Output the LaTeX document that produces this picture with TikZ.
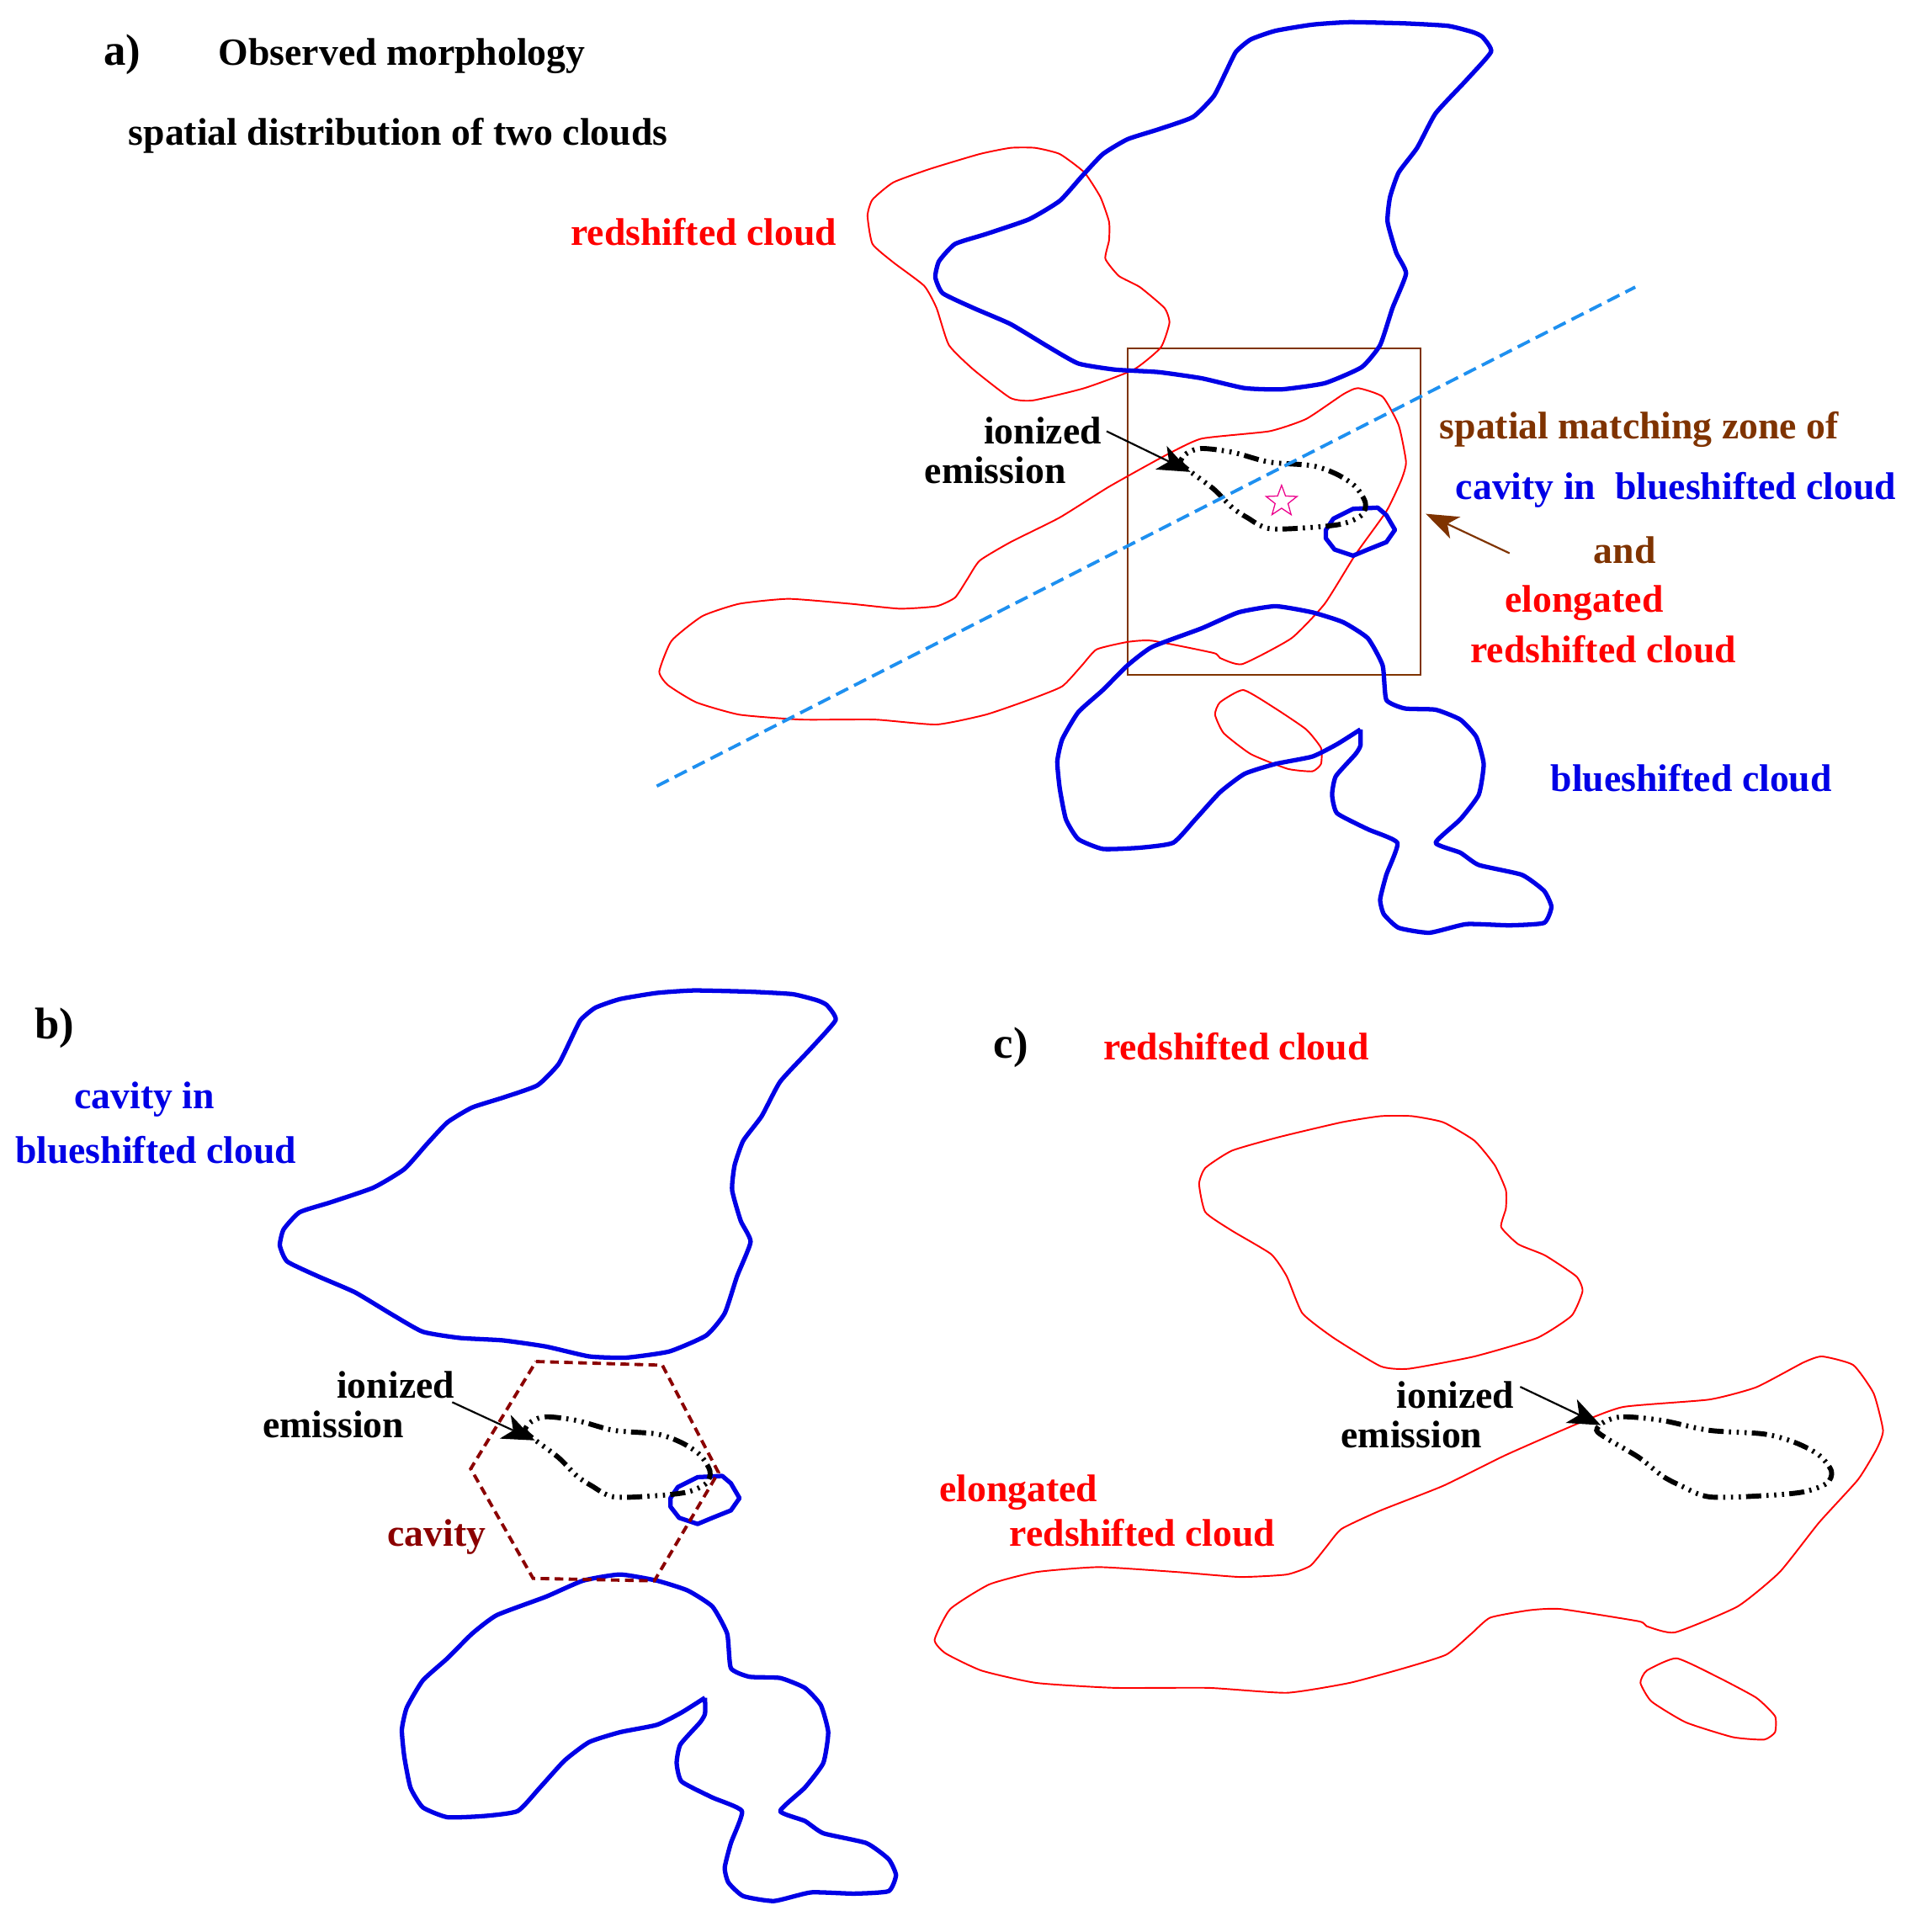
\documentclass[tikz,border=0pt]{standalone}
\usepackage{fontspec}
\setmainfont{Liberation Serif}
\usetikzlibrary{arrows.meta,shapes.geometric}
\definecolor{cloudblue}{RGB}{0,0,230}
\definecolor{cloudred}{RGB}{255,0,0}
\definecolor{zonebrown}{RGB}{127,51,0}
\definecolor{cavityred}{RGB}{139,0,0}
\definecolor{axisblue}{RGB}{30,144,240}
\tikzset{
  blueline/.style={draw=cloudblue,line width=2.05pt,line join=round},
  redline/.style={draw=cloudred,line width=0.75pt,line join=round},
  ionline/.style={draw=black,line width=2.3pt,dash pattern=on 7pt off 2.4pt on 1pt off 2.6pt on 1pt off 2.6pt on 1pt off 2.4pt},
  leader/.style={draw=black,line width=0.85pt,-{Stealth[length=15pt,width=12pt,inset=4pt]}},
  label/.style={inner sep=0pt,anchor=base west,yshift=-0.02cm,font=\fontsize{17.78}{20}\selectfont\bfseries},
  tag/.style={inner sep=0pt,anchor=base west,yshift=-0.02cm,font=\fontsize{20.5}{22}\selectfont\bfseries},
  blue upper/.style={insert path={plot[smooth cycle,tension=.3] coordinates {(1210,42)(1203,30)(1195,26)(1175,21)(1140,19)(1095,18)(1065,20)(1035,25)(1015,32)(1003,42)(995,58)(985,78)(968,95)(940,105)(915,113)(895,125)(878,143)(860,163)(835,178)(800,190)(775,198)(762,212)(759,225)(765,238)(790,250)(820,263)(850,281)(875,295)(905,300)(940,302)(975,307)(1010,315)(1040,316)(1075,311)(1105,298)(1120,280)(1130,250)(1141,222)(1133,205)(1126,180)(1128,160)(1135,140)(1150,120)(1165,92)(1190,65)}}},
  blue lower/.style={insert path={plot[smooth,tension=.3] coordinates {(1104,592)(1085,604)(1065,614)(1035,620)(1010,628)(990,643)(970,665)(952,684)(925,688)(895,689)(875,681)(865,665)(860,640)(858,618)(862,600)(875,578)(895,560)(915,540)(935,525)(975,510)(1005,497)(1035,492)(1065,497)(1090,505)(1110,518)(1122,540)(1125,568)(1140,575)(1165,576)(1185,584)(1198,598)(1204,620)(1200,645)(1185,665)(1165,684)(1185,692)(1200,702)(1235,710)(1253,723)(1259,736)(1253,749)(1225,751)(1190,750)(1160,757)(1135,753)(1123,742)(1120,730)(1125,710)(1134,684)(1110,673)(1085,660)(1081,645)(1084,630)(1100,612)(1104,605)(1104,592)}}},
  blue loop/.style={insert path={(1076,430)--(1082,421)--(1098,413)--(1118,412)--(1125,418)--(1132,430)--(1125,440)--(1110,446)--(1098,451)--(1083,446)--(1076,437)--cycle}},
  red upper/.style={insert path={plot[smooth cycle,tension=.3] coordinates {(704,175)(708,162)(725,148)(755,137)(795,125)(820,120)(840,120)(860,125)(880,140)(893,160)(900,180)(900,195)(897,210)(908,224)(925,233)(945,250)(949,262)(942,282)(920,300)(880,315)(838,325)(820,323)(790,300)(770,280)(760,250)(750,232)(725,213)(708,198)}}},
  red long/.style={insert path={plot[smooth cycle,tension=.3] coordinates {(1102,315)(1090,320)(1060,340)(1030,350)(975,356)(945,370)(900,395)(860,420)(820,440)(795,455)(785,470)(775,485)(760,492)(730,494)(690,490)(640,486)(600,490)(570,500)(545,520)(535,545)(542,556)(565,570)(600,580)(650,584)(710,584)(760,588)(800,580)(835,568)(862,557)(878,540)(890,527)(915,521)(935,520)(985,530)(990,534)(1008,539)(1048,518)(1075,490)(1100,450)(1125,415)(1137,390)(1141,375)(1135,345)(1122,322)}}},
  red small/.style={insert path={plot[smooth cycle,tension=.3] coordinates {(1009,560)(990,570)(986,580)(993,595)(1015,612)(1045,624)(1065,626)(1072,620)(1072,607)(1060,592)(1035,575)}}},
  ion loop/.style={insert path={plot[smooth cycle,tension=.5] coordinates {(963,368)(975,364)(1000,367)(1030,375)(1065,378)(1085,385)(1100,395)(1108,408)(1105,418)(1090,425)(1065,428)(1030,429)(1012,420)(1000,412)(985,397)(965,382)(958,375)}}}
}
\begin{document}
\begin{tikzpicture}[x=0.02cm,y=-0.02cm]
\useasboundingbox (0,0) rectangle (1564,1568);

% Panel a: both clouds overlaid
\coordinate (zoneNW) at (915,283);
\coordinate (zoneSE) at (1153,548);
\draw[zonebrown,line width=0.8pt] (zoneNW) rectangle (zoneSE);
\draw[redline,red upper];
\draw[redline,red long];
\draw[redline,red small];
\draw[blueline,blue upper];
\draw[blueline,blue lower];
\draw[blueline,blue loop];
\draw[ionline,ion loop];
\coordinate (axisA) at (533,638);
\coordinate (axisB) at (1327,233);
\draw[axisblue,line width=1.5pt,dash pattern=on 6.2pt off 3.1pt] (axisA) -- (axisB);
\node[star,star points=5,star point ratio=2.4,draw=magenta,line width=0.5pt,inner sep=0pt,minimum size=15pt] (starA) at (1040,407) {};

\node[tag] (tagA) at (84,52) {a)};
\node[label] (titleA) at (177,52) {Observed morphology};
\node[label] (subA) at (104,117) {spatial distribution of two clouds};
\node[label,text=cloudred] (redA) at (463,198) {redshifted cloud};
\node[label] (ionA1) at (798,359) {ionized};
\node[label] (ionA2) at (750,391) {emission};
\node[label,text=zonebrown] (zone1) at (1168,355) {spatial matching zone of};
\node[label,text=cloudblue] (zone2) at (1181,404) {cavity in\ \ blueshifted cloud};
\node[label,text=zonebrown] (zone3) at (1293,456) {and};
\node[label,text=cloudred] (zone4) at (1221,496) {elongated};
\node[label,text=cloudred] (zone5) at (1193,537) {redshifted cloud};
\node[label,text=cloudblue] (blueA) at (1258,641) {blueshifted cloud};

\coordinate (ionAfrom) at (898,350);
\coordinate (ionAtip) at (966,383);
\draw[leader] (ionAfrom) -- (ionAtip);
\coordinate (zoneFrom) at (1225,449);
\coordinate (zoneTip) at (1157,417);
\draw[zonebrown,line width=0.85pt,-{Stealth[length=15pt,width=11pt,inset=4pt]}] (zoneFrom) -- (zoneTip);

% Panel b: the blue cloud with its cavity
\begin{scope}[shift={(-10.64cm,-15.72cm)}]
\draw[blueline,blue upper];
\draw[blueline,blue lower];
\draw[blueline,blue loop];
\draw[ionline,ion loop];
\end{scope}
\coordinate (hexA) at (435,1105);
\coordinate (hexB) at (537.5,1108);
\coordinate (hexC) at (583,1195);
\coordinate (hexD) at (531,1283);
\coordinate (hexE) at (432.6,1281);
\coordinate (hexF) at (382,1192);
\draw[cavityred,line width=1.5pt,dash pattern=on 4pt off 2.5pt]
  (hexA) -- (hexB) -- (hexC) -- (hexD) -- (hexE) -- (hexF) -- cycle;
\node[tag] (tagB) at (28,842) {b)};
\node[label,text=cloudblue] (cavB1) at (60,899) {cavity in};
\node[label,text=cloudblue] (cavB2) at (12,943) {blueshifted cloud};
\node[label] (ionB1) at (273,1134) {ionized};
\node[label] (ionB2) at (213,1166) {emission};
\node[label,text=cavityred] (cavB3) at (314,1254) {cavity};
\coordinate (ionBfrom) at (367,1138);
\coordinate (ionBtip) at (434,1169);
\draw[leader] (ionBfrom) -- (ionBtip);

% Panel c: the red cloud, stretched horizontally
\begin{scope}[x=0.0254cm,y=-0.02cm,shift={(1.58cm,-15.72cm)}]
\draw[redline,red upper];
\draw[redline,red long];
\draw[redline,red small];
\draw[ionline,ion loop];
\end{scope}
\node[tag] (tagC) at (806,858) {c)};
\node[label,text=cloudred] (redC) at (895,859) {redshifted cloud};
\node[label] (ionC1) at (1133,1142) {ionized};
\node[label] (ionC2) at (1088,1174) {emission};
\node[label,text=cloudred] (elC1) at (762,1218) {elongated};
\node[label,text=cloudred] (elC2) at (819,1254) {redshifted cloud};
\coordinate (ionCfrom) at (1233.6,1125.5);
\coordinate (ionCtip) at (1299,1156.6);
\draw[leader] (ionCfrom) -- (ionCtip);
\end{tikzpicture}
\end{document}
